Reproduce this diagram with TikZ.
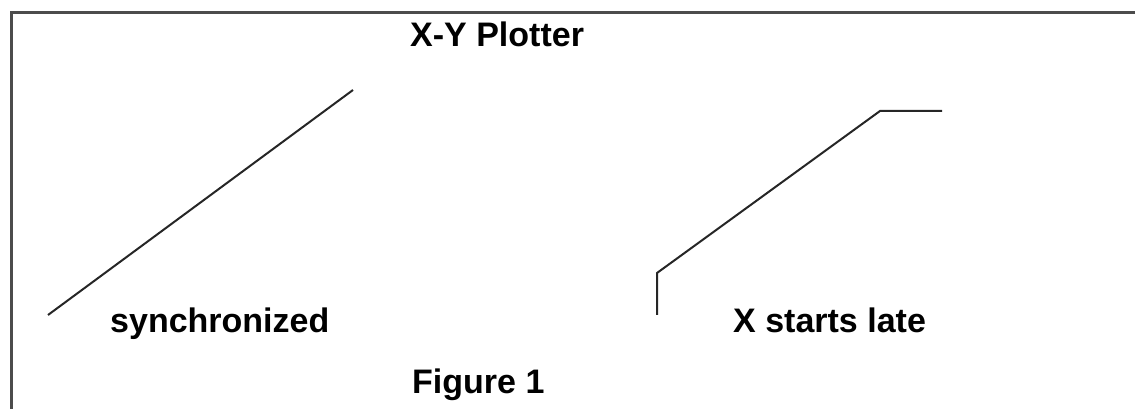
\documentclass[tikz,border=0pt]{standalone}
\usepackage{fontspec}
\setmainfont{Liberation Sans}
\usepackage{tikz}

\tikzset{
	lbl/.style={anchor=base west, inner sep=0pt, font=\fontsize{34}{40}\selectfont\bfseries},
	trace/.style={color=black!85, line width=2pt},
	frame/.style={color=black!70, line width=3pt}
}

\begin{document}
\begin{tikzpicture}[x=1pt,y=1pt]
				\useasboundingbox (0,0) rectangle (1135,409);
				\draw[frame] (11,0) -- (11,396) -- (1135,396);
				\draw (410,362) node[lbl] (title) {X-Y Plotter};
				
				\draw[trace] (48,94) -- (353,319);
				\draw (110,76) node[lbl] (sync) {synchronized};
				
				\draw[trace] (657,94) -- (657,136) -- (880,298) -- (942,298);
				\draw (733,76) node[lbl] (late) {X starts late};
				
				\draw (412,15) node[lbl] (fig) {Figure 1};
			\end{tikzpicture}
\end{document}
